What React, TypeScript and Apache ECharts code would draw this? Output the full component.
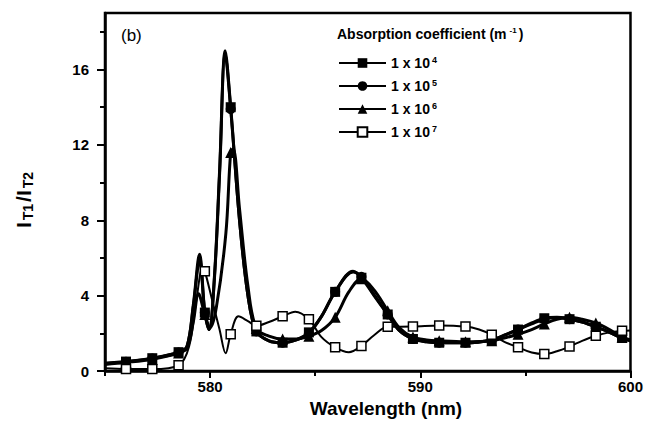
import React, { useEffect, useRef } from "react";
import * as echarts from "echarts";

// ---- data -------------------------------------------------------------
const seriesNames = ["1 x 10^4", "1 x 10^5", "1 x 10^6", "1 x 10^7"];
const exponents = ["4", "5", "6", "7"];
const symbols = ["rect", "circle", "triangle", "rect"];

// wavelengths (nm) where the markers are drawn
const markerWavelengths = [
  576.0, 577.25, 578.5, 579.75, 580.98, 582.2, 583.45, 584.7, 585.95, 587.2,
  588.45, 589.65, 590.9, 592.15, 593.4, 594.65, 595.9, 597.1, 598.35, 599.6,
];

// [wavelength (nm), I_T1/I_T2]
const curve1e4: [number, number][] = [
  [575, 0.41], [576.0, 0.5], [577.25, 0.68], [578.5, 1.0], [578.9, 1.3],
  [579.2, 3.5], [579.5, 6.2], [579.75, 3.1], [579.95, 2.2], [580.2, 4.9],
  [580.45, 10.6], [580.72, 17.0], [580.98, 14.0], [581.4, 8.0], [581.8, 4.0],
  [582.2, 2.1], [582.8, 1.6], [583.45, 1.5], [584.1, 1.65], [584.7, 2.05],
  [585.3, 2.9], [585.95, 4.2], [586.8, 5.3], [587.2, 4.95], [587.8, 4.0],
  [588.45, 3.0], [589.0, 2.15], [589.65, 1.7], [590.3, 1.55], [590.9, 1.5],
  [592.15, 1.5], [593.4, 1.65], [594.0, 1.9], [594.65, 2.2], [595.3, 2.55],
  [595.9, 2.8], [596.5, 2.85], [597.1, 2.75], [597.7, 2.6], [598.35, 2.35],
  [599.0, 2.05], [599.6, 1.75], [600, 1.6],
];

const curve1e5: [number, number][] = [
  [575, 0.4], [576.0, 0.49], [577.25, 0.67], [578.5, 0.98], [578.9, 1.3],
  [579.2, 3.4], [579.5, 5.9], [579.75, 3.1], [579.95, 2.2], [580.2, 4.8],
  [580.45, 10.4], [580.72, 16.8], [580.98, 13.9], [581.4, 8.0], [581.8, 4.0],
  [582.2, 2.1], [582.8, 1.6], [583.45, 1.5], [584.1, 1.65], [584.7, 2.0],
  [585.3, 2.9], [585.95, 4.2], [586.8, 5.25], [587.2, 5.0], [587.8, 4.05],
  [588.45, 3.0], [589.0, 2.15], [589.65, 1.7], [590.3, 1.55], [590.9, 1.5],
  [592.15, 1.5], [593.4, 1.65], [594.0, 1.9], [594.65, 2.2], [595.3, 2.5],
  [595.9, 2.75], [596.5, 2.82], [597.1, 2.75], [597.7, 2.6], [598.35, 2.35],
  [599.0, 2.05], [599.6, 1.75], [600, 1.6],
];

const curve1e6: [number, number][] = [
  [575, 0.35], [576.0, 0.45], [577.25, 0.62], [578.5, 0.95], [578.9, 1.2],
  [579.2, 2.6], [579.45, 4.1], [579.75, 3.0], [580.0, 2.3], [580.3, 3.4],
  [580.75, 7.3], [580.98, 11.6], [581.1, 11.8], [581.4, 8.6], [581.8, 4.5],
  [582.2, 2.25], [582.8, 1.85], [583.45, 1.7], [584.1, 1.7], [584.7, 1.85],
  [585.3, 2.15], [585.95, 2.85], [586.6, 4.2], [587.2, 4.9], [587.8, 4.3],
  [588.45, 3.2], [589.0, 2.3], [589.65, 1.8], [590.3, 1.65], [590.9, 1.6],
  [592.15, 1.55], [593.4, 1.6], [594.0, 1.75], [594.65, 1.95], [595.3, 2.2],
  [595.9, 2.5], [596.5, 2.75], [597.1, 2.85], [597.7, 2.75], [598.35, 2.55],
  [599.0, 2.2], [599.6, 1.8], [600, 1.65],
];

const curve1e7: [number, number][] = [
  [575, 0.14], [576.0, 0.1], [577.25, 0.1], [578.5, 0.3], [579.0, 1.3],
  [579.35, 3.8], [579.65, 5.5], [579.75, 5.3], [580.1, 3.75], [580.45, 2.2],
  [580.74, 0.94], [580.98, 1.95], [581.35, 2.9], [581.8, 2.65], [582.2, 2.4],
  [582.8, 2.6], [583.45, 2.9], [584.05, 3.15], [584.7, 2.75], [585.3, 1.8],
  [585.95, 1.26], [586.6, 1.0], [587.2, 1.33], [587.8, 1.9], [588.45, 2.35],
  [589.65, 2.36], [590.9, 2.42], [592.15, 2.36], [592.8, 2.2], [593.4, 1.92],
  [594.0, 1.55], [594.65, 1.26], [595.3, 0.98], [595.9, 0.9], [596.5, 1.05],
  [597.1, 1.3], [597.7, 1.6], [598.35, 1.87], [599.0, 2.05], [599.6, 2.13],
  [600, 2.15],
];

const curves = [curve1e4, curve1e5, curve1e6, curve1e7];

const xMajorTicks = [580, 590, 600];
const xMinorTicks = [575, 585, 595];
const yMajorTicks = [0, 4, 8, 12, 16];
const yMinorTicks = [2, 6, 10, 14, 18];

const FONT = "'Liberation Sans', Arial, sans-serif";

export default function App() {
  const ref = useRef<HTMLDivElement>(null);

  useEffect(() => {
    if (!ref.current) return;
    const chart = echarts.init(ref.current, undefined, { renderer: "svg" });

    const toData = (curve: [number, number][]) =>
      curve.map(([x, y]) =>
        markerWavelengths.some((m) => Math.abs(m - x) < 1e-6)
          ? { value: [x, y] }
          : { value: [x, y], symbol: "none" }
      );

    const series = curves.map((c, i) => {
      const open = i === 3;
      return {
        name: seriesNames[i],
        type: "line",
        xAxisIndex: 0,
        yAxisIndex: 0,
        data: toData(c),
        smooth: 0.35,
        symbol: symbols[i],
        symbolSize: i === 2 ? 11 : open ? 9 : 10,
        showSymbol: true,
        lineStyle: { color: "#000", width: open ? 2 : 3 },
        itemStyle: open
          ? { color: "#fff", borderColor: "#000", borderWidth: 1.5 }
          : { color: "#000", borderColor: "#000", borderWidth: 0 },
        emphasis: { disabled: true },
        z: open ? 4 : 3,
      };
    });

    const axisText = {
      color: "#000",
      fontFamily: FONT,
      fontSize: 15,
      fontWeight: "bold",
    };

    chart.setOption({
      animation: false,
      backgroundColor: "#fff",
      grid: {
        left: 105,
        right: 13,
        top: 13,
        bottom: 53,
        show: true,
        borderColor: "#000",
        borderWidth: 2.5,
        backgroundColor: "transparent",
      },
      xAxis: [
        {
          type: "value",
          min: 575,
          max: 600,
          position: "bottom",
          axisLine: { show: true, onZero: false, lineStyle: { color: "#000", width: 2.5 } },
          axisTick: { show: true, customValues: xMajorTicks, length: 7, lineStyle: { color: "#000", width: 2 } },
          axisLabel: { show: true, customValues: xMajorTicks, margin: 8, ...axisText },
          splitLine: { show: false },
        },
        {
          type: "value",
          min: 575,
          max: 600,
          position: "bottom",
          axisLine: { show: false, onZero: false },
          axisTick: { show: true, customValues: xMinorTicks, length: 5, lineStyle: { color: "#000", width: 2 } },
          axisLabel: { show: false },
          splitLine: { show: false },
        },
      ],
      yAxis: [
        {
          type: "value",
          min: 0,
          max: 19,
          position: "left",
          axisLine: { show: true, onZero: false, lineStyle: { color: "#000", width: 2.5 } },
          axisTick: { show: true, customValues: yMajorTicks, length: 8, lineStyle: { color: "#000", width: 2 } },
          axisLabel: { show: true, customValues: yMajorTicks, margin: 16, ...axisText },
          splitLine: { show: false },
        },
        {
          type: "value",
          min: 0,
          max: 19,
          position: "left",
          axisLine: { show: false, onZero: false },
          axisTick: { show: true, customValues: yMinorTicks, length: 5, lineStyle: { color: "#000", width: 2 } },
          axisLabel: { show: false },
          splitLine: { show: false },
        },
      ],
      legend: {
        show: true,
        orient: "vertical",
        left: 333,
        top: 50,
        itemWidth: 47,
        itemHeight: 12,
        itemGap: 7,
        data: seriesNames,
        selectedMode: false,
        formatter: (name: string) => `1 x 10{sup|${exponents[seriesNames.indexOf(name)]}}`,
        textStyle: {
          color: "#000",
          fontFamily: FONT,
          fontSize: 14,
          fontWeight: "bold",
          lineHeight: 16,
          rich: {
            sup: {
              fontFamily: FONT,
              fontSize: 9,
              fontWeight: "bold",
              color: "#000",
              lineHeight: 10,
              verticalAlign: "top",
              padding: [0, 0, 6, 2],
            },
          },
        },
      },
      graphic: [
        {
          type: "text",
          left: 337,
          top: 26,
          style: {
            text: "Absorption coefficient (m{sup|-1})",
            fill: "#000",
            fontFamily: FONT,
            fontSize: 14,
            fontWeight: "bold",
            lineHeight: 16,
            rich: {
              sup: {
                fontFamily: FONT,
                fontSize: 8,
                fontWeight: "bold",
                fill: "#000",
                lineHeight: 8,
                padding: [0, 2, 8, 3],
              },
            },
          },
        },
        {
          type: "text",
          left: 121,
          top: 27,
          style: {
            text: "(b)",
            fill: "#000",
            fontFamily: FONT,
            fontSize: 17,
          },
        },
        {
          type: "text",
          x: 386,
          y: 408,
          style: {
            text: "Wavelength (nm)",
            fill: "#000",
            fontFamily: FONT,
            fontSize: 19,
            fontWeight: "bold",
            align: "center",
            verticalAlign: "middle",
          },
        },
        {
          type: "text",
          x: 24,
          y: 200,
          rotation: Math.PI / 2,
          style: {
            text: "{b|I}{s|T1}{b|/I}{s|T2}",
            align: "center",
            verticalAlign: "middle",
            rich: {
              b: {
                fontFamily: FONT,
                fontSize: 21,
                fontWeight: "bold",
                fill: "#000",
                lineHeight: 22,
                verticalAlign: "top",
                padding: [0, 1, 0, 1],
              },
              s: {
                fontFamily: FONT,
                fontSize: 14,
                fontWeight: "bold",
                fill: "#000",
                lineHeight: 14,
                verticalAlign: "bottom",
                padding: [18, 1, 0, 1],
              },
            },
          },
        },
      ],
      series,
    });

    return () => chart.dispose();
  }, []);

  return (
    <div
      ref={ref}
      style={{ position: "fixed", left: 0, top: 0, width: 646, height: 424, background: "#fff" }}
    />
  );
}
